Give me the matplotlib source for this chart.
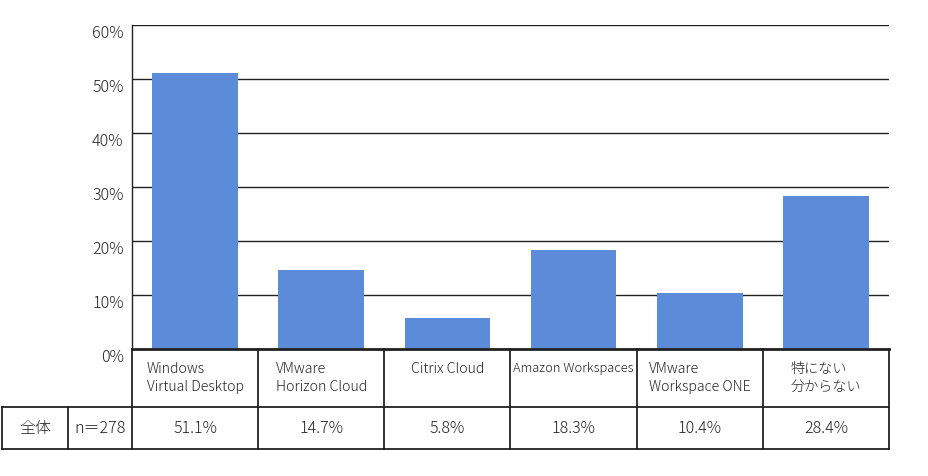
import matplotlib
matplotlib.use("Agg")
import matplotlib.pyplot as plt
import matplotlib.transforms as mtransforms

plt.rcParams['font.family'] = ['Noto Sans CJK JP', 'DejaVu Sans']
plt.rcParams['font.weight'] = 'light'

categories = [
    "Windows\nVirtual Desktop",
    "VMware\nHorizon Cloud",
    "Citrix Cloud",
    "Amazon Workspaces",
    "VMware\nWorkspace ONE",
    "特にない\n分からない",
]
values = [51.1, 14.7, 5.8, 18.3, 10.4, 28.4]
row_label = "全体"
n_label = "n＝278"
y_ticks = [0, 10, 20, 30, 40, 50, 60]

W, H = 929, 477
fig = plt.figure(figsize=(W / 100, H / 100), dpi=100)

# main plot area in pixels
left, right, top, bottom = 132, 889, 26, 350
ax = fig.add_axes([left / W, 1 - bottom / H, (right - left) / W, (bottom - top) / H])

x = range(len(values))
ax.bar(x, values, width=0.68, color='#5B8BD9', zorder=2)
ax.set_xlim(-0.5, len(values) - 0.5)
ax.set_ylim(0, 60)
ax.set_yticks(y_ticks)
ax.set_yticklabels([f"{t}%" for t in y_ticks], fontsize=11.5, color='#222222')
ax.set_xticks([])
ax.tick_params(axis='y', length=0, pad=6)
ax.grid(axis='y', color='#222222', linewidth=1, zorder=1)
for s in ['top', 'right', 'bottom']:
    ax.spines[s].set_visible(False)
ax.spines['left'].set_color('#222222')
ax.spines['left'].set_linewidth(1)

offset = mtransforms.ScaledTranslation(0, -6 / 100, fig.dpi_scale_trans)
for lab in ax.get_yticklabels():
    lab.set_transform(lab.get_transform() + offset)

# table drawn in pixel coordinates on an overlay
tab = fig.add_axes([0, 0, 1, 1], facecolor='none')
tab.set_xlim(0, W)
tab.set_ylim(H, 0)
tab.axis('off')

col_w = (right - left) / len(categories)
row1, row2, row3 = bottom, 408, 450
lc = '#222222'
tab.plot([left, left + col_w * len(categories)], [row1, row1], color=lc, lw=2)
tab.plot([2, left + col_w * len(categories)], [row2, row2], color=lc, lw=1.3)
tab.plot([2, left + col_w * len(categories)], [row3, row3], color=lc, lw=1.3)
for i in range(len(categories) + 1):
    xb = left + i * col_w
    tab.plot([xb, xb], [row1, row3], color=lc, lw=1.3)
for xb in [2, 68]:
    tab.plot([xb, xb], [row2, row3], color=lc, lw=1.3)

for i, (cat, v) in enumerate(zip(categories, values)):
    cx = left + (i + 0.5) * col_w
    fs = 9.3 if cat == "Amazon Workspaces" else 10.2
    tab.text(cx, 362, cat, ha='center', va='top', multialignment='left',
             fontsize=fs, linespacing=1.4, color='#222222')
    tab.text(cx, (row2 + row3) / 2, f"{v}%", ha='center', va='center',
             fontsize=11.5, color='#222222')

tab.text(35, (row2 + row3) / 2, row_label, ha='center', va='center', fontsize=11.5, color='#222222')
tab.text(100, (row2 + row3) / 2, n_label, ha='center', va='center', fontsize=11.5, color='#222222')

fig.savefig("out.png", dpi=100)
